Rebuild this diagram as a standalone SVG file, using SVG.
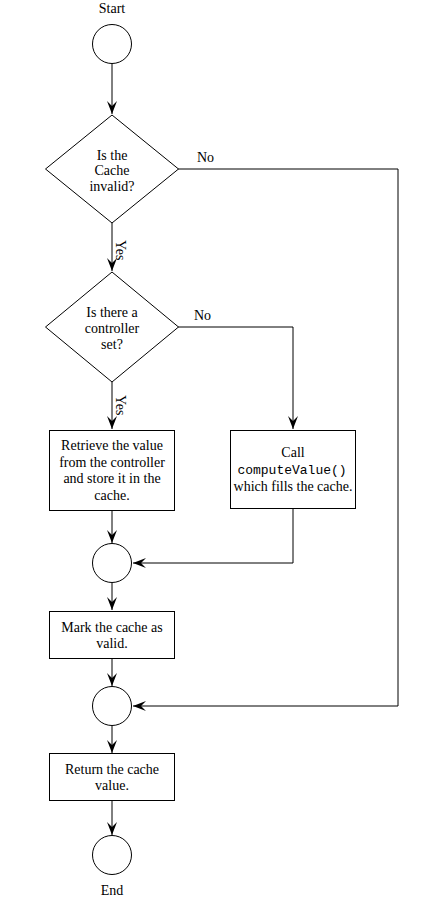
<svg xmlns="http://www.w3.org/2000/svg" width="421" height="898" viewBox="0 0 421 898">
<style>
.s{fill:#fff;stroke:#000;stroke-width:1}
.t{font-family:"Liberation Serif","Times New Roman",serif;font-size:14px;fill:#000;text-anchor:middle}
.l{font-family:"Liberation Serif","Times New Roman",serif;font-size:14px;fill:#000}
.m{font-family:"Liberation Mono","Courier New",monospace;font-size:13px}
.c{fill:none;stroke:#000;stroke-width:1}
</style>
<defs>
<marker id="a" markerUnits="userSpaceOnUse" markerWidth="16" markerHeight="12" refX="14" refY="6" orient="auto">
<path d="M14,6 L1,1 L6,6 L1,11 Z" fill="#000"/>
</marker>
</defs>
<g id="connectors">
<path class="c" d="M112,63 V114" marker-end="url(#a)"/>
<path class="c" d="M178,169 H398 V706 H133" marker-end="url(#a)"/>
<path class="c" d="M112,223 V271" marker-end="url(#a)"/>
<path class="c" d="M178,327 H293 V429" marker-end="url(#a)"/>
<path class="c" d="M112,382 V429" marker-end="url(#a)"/>
<path class="c" d="M112,510 V543" marker-end="url(#a)"/>
<path class="c" d="M293,508 V563 H133" marker-end="url(#a)"/>
<path class="c" d="M112,583 V610" marker-end="url(#a)"/>
<path class="c" d="M112,658 V686" marker-end="url(#a)"/>
<path class="c" d="M112,726 V753" marker-end="url(#a)"/>
<path class="c" d="M112,800 V835" marker-end="url(#a)"/>
<text class="l" x="197" y="161.5">No</text>
<text class="l" x="194" y="319.5">No</text>
<text class="l" transform="translate(116,240) rotate(90)">Yes</text>
<text class="l" transform="translate(116,395) rotate(90)">Yes</text>
</g>
<g id="start">
<text class="t" x="112" y="13">Start</text>
<circle class="s" cx="112" cy="44" r="19.5"/>
</g>
<g id="cacheInvalid">
<path class="s" d="M112,115 L178.5,169 L112,223 L45.5,169 Z"/>
<text class="t" x="112" y="159.5">Is the</text>
<text class="t" x="112" y="175">Cache</text>
<text class="t" x="112" y="190.5">invalid?</text>
</g>
<g id="controllerSet">
<path class="s" d="M112,272 L178.5,327 L112,382 L45.5,327 Z"/>
<text class="t" x="112" y="317">Is there a</text>
<text class="t" x="112" y="333">controller</text>
<text class="t" x="112" y="348.5">set?</text>
</g>
<g id="retrieve">
<rect class="s" x="49.5" y="430.5" width="125" height="80"/>
<text class="t" x="112" y="450">Retrieve the value</text>
<text class="t" x="112" y="466.5">from the controller</text>
<text class="t" x="112" y="483">and store it in the</text>
<text class="t" x="112" y="499.5">cache.</text>
</g>
<g id="compute">
<rect class="s" x="230.5" y="430.5" width="125" height="78"/>
<text class="t" x="293" y="457">Call</text>
<text class="t m" x="292" y="474">computeValue()</text>
<text class="t" x="293" y="490.5">which fills the cache.</text>
</g>
<g id="merge1">
<circle class="s" cx="112" cy="563" r="19.5"/>
</g>
<g id="markValid">
<rect class="s" x="49.5" y="611.5" width="125" height="47"/>
<text class="t" x="112" y="631.5">Mark the cache as</text>
<text class="t" x="112" y="647.5">valid.</text>
</g>
<g id="merge2">
<circle class="s" cx="112" cy="706" r="19.5"/>
</g>
<g id="returnValue">
<rect class="s" x="49.5" y="753.5" width="125" height="47"/>
<text class="t" x="112" y="773.5">Return the cache</text>
<text class="t" x="112" y="789.5">value.</text>
</g>
<g id="end">
<circle class="s" cx="112" cy="855" r="19.5"/>
<text class="t" x="112" y="894.5">End</text>
</g>
</svg>
